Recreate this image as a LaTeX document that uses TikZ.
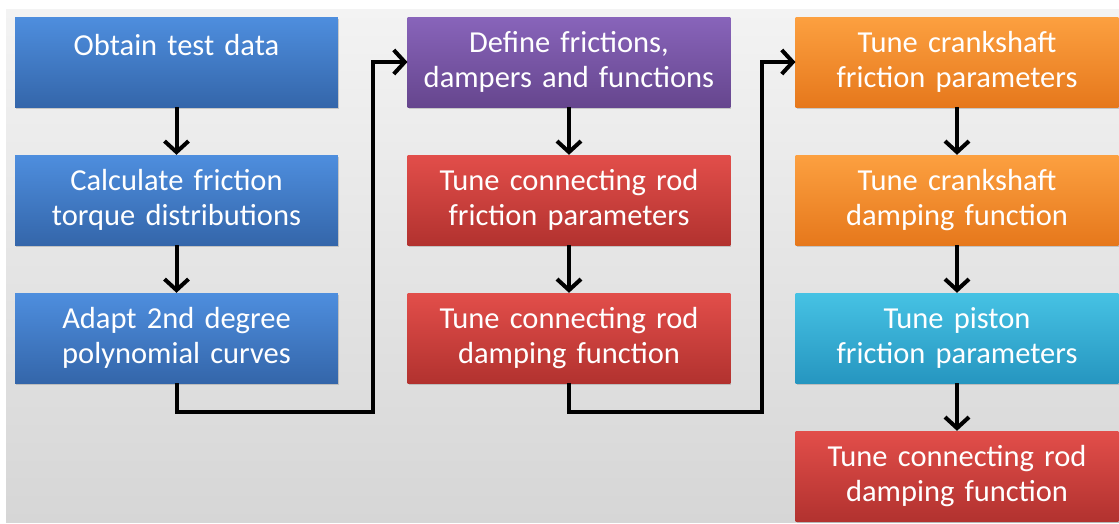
\documentclass[tikz,border=0pt]{standalone}
\usepackage{fontspec}
\setmainfont{Carlito}
\usetikzlibrary{arrows.meta,shadows,positioning}
\definecolor{bluetop}{RGB}{78,142,222}
\definecolor{bluebot}{RGB}{52,102,170}
\definecolor{purptop}{RGB}{136,100,186}
\definecolor{purpbot}{RGB}{102,70,142}
\definecolor{redtop}{RGB}{226,78,74}
\definecolor{redbot}{RGB}{178,50,47}
\definecolor{orantop}{RGB}{252,160,64}
\definecolor{oranbot}{RGB}{230,120,28}
\definecolor{cyantop}{RGB}{70,194,228}
\definecolor{cyanbot}{RGB}{38,150,192}
\definecolor{bgtop}{RGB}{243,243,243}
\definecolor{bgbot}{RGB}{214,214,214}
\begin{document}
\begin{tikzpicture}[x=1pt,y=1pt]
        \tikzstyle{stepbox}=[rectangle,minimum width=322pt,minimum height=90pt,text width=316pt,align=center,
          text=white,font=\fontsize{30.5}{35}\selectfont,drop shadow={opacity=0.35,shadow xshift=1pt,shadow yshift=-2pt}]
        \tikzstyle{bluebox}=[stepbox,top color=bluetop,bottom color=bluebot]
        \tikzstyle{purpbox}=[stepbox,top color=purptop,bottom color=purpbot]
        \tikzstyle{redbox}=[stepbox,top color=redtop,bottom color=redbot]
        \tikzstyle{oranbox}=[stepbox,top color=orantop,bottom color=oranbot]
        \tikzstyle{cyanbox}=[stepbox,top color=cyantop,bottom color=cyanbot]
        \tikzstyle{flow}=[draw,line width=4pt,-{Straight Barb[length=11pt,width=24pt]}]
        \useasboundingbox (0,0) rectangle (1119,-523);
        \shade[top color=bgtop,bottom color=bgbot] (6,-9) rectangle (1119,-522);
       \begin{scope}
         \node [bluebox] (obtain)   at (176.5,-62)  {Obtain test data\\ \mbox{}};
         \node [bluebox] (calcfric) at (176.5,-200) {Calculate friction\\ torque distributions};
         \node [bluebox] (adapt)    at (176.5,-338) {Adapt 2nd degree\\ polynomial curves};
         \node [purpbox] (define)   at (569,-62)    {Define frictions,\\ dampers and functions};
         \node [redbox]  (rodfric)  at (569,-200)   {Tune connecting rod\\ friction parameters};
         \node [redbox]  (roddamp)  at (569,-338)   {Tune connecting rod\\ damping function};
         \node [oranbox] (crankfric) at (957,-62)   {Tune crankshaft\\ friction parameters};
         \node [oranbox] (crankdamp) at (957,-200)  {Tune crankshaft\\ damping function};
         \node [cyanbox] (pistfric) at (957,-338)   {Tune piston\\ friction parameters};
         \node [redbox]  (roddampb) at (957,-476)   {Tune connecting rod\\ damping function};
         \path[flow] (obtain) -- (calcfric);
         \path[flow] (calcfric) -- (adapt);
         \path[flow] (define) -- (rodfric);
         \path[flow] (rodfric) -- (roddamp);
         \path[flow] (crankfric) -- (crankdamp);
         \path[flow] (crankdamp) -- (pistfric);
         \path[flow] (pistfric) -- (roddampb);
         \path[flow] (adapt.south) -- ++(0,-29) -| ([xshift=-34pt]define.west) -- (define.west);
         \path[flow] (roddamp.south) -- ++(0,-29) -| ([xshift=-33pt]crankfric.west) -- (crankfric.west);
        \end{scope}
\end{tikzpicture}
\end{document}
